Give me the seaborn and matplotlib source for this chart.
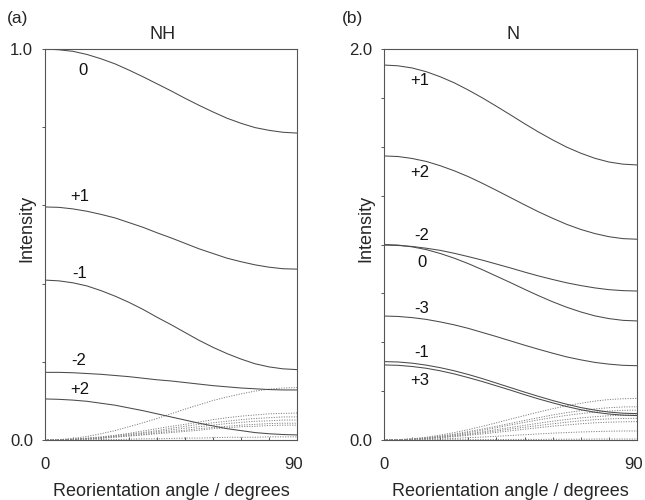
import matplotlib
matplotlib.use("Agg")
import matplotlib.pyplot as plt
import matplotlib.transforms as mtransforms
import seaborn as sns
import pandas as pd

# Reorientation angle grid (degrees)
angles = list(range(0, 91, 5))

# ---- (a) NH intensities, labelled transitions ----
nh_labels = ["0", "+1", "-1", "-2", "+2"]
nh_0 = [1.000, 0.998, 0.994, 0.986, 0.975, 0.962, 0.946, 0.929, 0.911, 0.893,
        0.874, 0.856, 0.839, 0.823, 0.810, 0.799, 0.792, 0.787, 0.785]
nh_p1 = [0.596, 0.595, 0.591, 0.585, 0.577, 0.568, 0.556, 0.544, 0.530, 0.517,
         0.503, 0.489, 0.477, 0.465, 0.456, 0.448, 0.442, 0.438, 0.437]
nh_m1 = [0.409, 0.407, 0.402, 0.394, 0.382, 0.368, 0.352, 0.334, 0.314, 0.295,
         0.275, 0.255, 0.237, 0.221, 0.207, 0.195, 0.187, 0.182, 0.180]
nh_m2 = [0.173, 0.173, 0.172, 0.170, 0.168, 0.165, 0.162, 0.158, 0.154, 0.151,
         0.147, 0.143, 0.139, 0.136, 0.133, 0.131, 0.129, 0.128, 0.128]
nh_p2 = [0.105, 0.104, 0.102, 0.099, 0.094, 0.089, 0.082, 0.075, 0.067, 0.059,
         0.051, 0.043, 0.036, 0.029, 0.024, 0.019, 0.016, 0.014, 0.013]
nh_label_pos = [(13.5, 0.946), (12.5, 0.622), (12.5, 0.425), (12.0, 0.203), (12.5, 0.128)]

# (a) NH, weak components growing in with angle
nh_weak_1 = [0, 0.001, 0.004, 0.009, 0.016, 0.024, 0.034, 0.044, 0.055, 0.067,
             0.079, 0.090, 0.101, 0.110, 0.118, 0.125, 0.130, 0.133, 0.134]
nh_weak_2 = [0, 0.001, 0.002, 0.005, 0.008, 0.012, 0.017, 0.023, 0.029, 0.035,
             0.040, 0.046, 0.052, 0.057, 0.061, 0.064, 0.067, 0.068, 0.069]
nh_weak_3 = [0, 0.000, 0.002, 0.004, 0.007, 0.011, 0.015, 0.019, 0.024, 0.030,
             0.035, 0.040, 0.044, 0.048, 0.052, 0.055, 0.057, 0.059, 0.059]
nh_weak_4 = [0, 0.000, 0.002, 0.003, 0.006, 0.009, 0.013, 0.017, 0.021, 0.026,
             0.030, 0.034, 0.038, 0.042, 0.045, 0.048, 0.049, 0.051, 0.051]
nh_weak_5 = [0, 0.000, 0.001, 0.003, 0.005, 0.008, 0.011, 0.014, 0.018, 0.022,
             0.025, 0.029, 0.032, 0.035, 0.038, 0.040, 0.042, 0.043, 0.043]
nh_weak_6 = [0, 0.000, 0.001, 0.003, 0.004, 0.007, 0.010, 0.013, 0.016, 0.019,
             0.022, 0.025, 0.029, 0.031, 0.034, 0.035, 0.037, 0.038, 0.038]
nh_weak_7 = [0, 0.000, 0.000, 0.001, 0.001, 0.001, 0.002, 0.003, 0.003, 0.004,
             0.005, 0.005, 0.006, 0.007, 0.007, 0.007, 0.008, 0.008, 0.008]

# ---- (b) N intensities, labelled transitions ----
n_labels = ["+1", "+2", "-2", "0", "-3", "-1", "+3"]
n_p1 = [1.918, 1.914, 1.903, 1.884, 1.858, 1.827, 1.790, 1.750, 1.707, 1.663,
        1.618, 1.575, 1.535, 1.498, 1.467, 1.441, 1.422, 1.411, 1.407]
n_p2 = [1.453, 1.450, 1.440, 1.425, 1.403, 1.377, 1.347, 1.313, 1.277, 1.240,
        1.203, 1.167, 1.134, 1.103, 1.077, 1.056, 1.040, 1.030, 1.027]
n_m2 = [0.997, 0.995, 0.990, 0.981, 0.970, 0.955, 0.938, 0.920, 0.900, 0.880,
        0.859, 0.839, 0.821, 0.804, 0.790, 0.778, 0.769, 0.764, 0.762]
n_0 = [1.000, 0.997, 0.988, 0.974, 0.954, 0.930, 0.902, 0.871, 0.838, 0.805,
       0.771, 0.738, 0.707, 0.679, 0.655, 0.635, 0.621, 0.612, 0.609]
n_m3 = [0.634, 0.632, 0.626, 0.617, 0.604, 0.589, 0.571, 0.550, 0.529, 0.507,
        0.485, 0.464, 0.444, 0.425, 0.410, 0.397, 0.388, 0.382, 0.380]
n_m1 = [0.401, 0.399, 0.393, 0.383, 0.370, 0.354, 0.335, 0.314, 0.291, 0.268,
        0.245, 0.223, 0.202, 0.183, 0.166, 0.153, 0.143, 0.137, 0.135]
n_p3 = [0.384, 0.382, 0.376, 0.367, 0.354, 0.338, 0.319, 0.299, 0.277, 0.255,
        0.232, 0.210, 0.190, 0.171, 0.155, 0.142, 0.133, 0.127, 0.125]
n_label_pos = [(12.8, 1.84), (12.8, 1.37), (13.5, 1.045), (13.5, 0.91),
               (13.5, 0.675), (13.5, 0.45), (12.8, 0.305)]

# (b) N, weak components growing in with angle
n_weak_1 = [0, 0.002, 0.006, 0.014, 0.025, 0.038, 0.053, 0.070, 0.088, 0.107,
            0.125, 0.143, 0.160, 0.175, 0.188, 0.199, 0.207, 0.211, 0.213]
n_weak_2 = [0, 0.001, 0.005, 0.011, 0.020, 0.030, 0.043, 0.056, 0.070, 0.085,
            0.100, 0.114, 0.128, 0.140, 0.150, 0.159, 0.165, 0.169, 0.170]
n_weak_3 = [0, 0.001, 0.005, 0.010, 0.018, 0.027, 0.038, 0.050, 0.063, 0.077,
            0.090, 0.103, 0.115, 0.126, 0.135, 0.143, 0.148, 0.152, 0.153]
n_weak_4 = [0, 0.001, 0.004, 0.009, 0.015, 0.023, 0.032, 0.042, 0.053, 0.064,
            0.075, 0.086, 0.096, 0.105, 0.113, 0.119, 0.124, 0.127, 0.128]
n_weak_5 = [0, 0.001, 0.003, 0.007, 0.013, 0.020, 0.028, 0.037, 0.046, 0.056,
            0.065, 0.074, 0.083, 0.091, 0.098, 0.104, 0.108, 0.110, 0.111]
n_weak_6 = [0, 0.001, 0.003, 0.006, 0.011, 0.017, 0.024, 0.031, 0.039, 0.047,
            0.055, 0.063, 0.071, 0.077, 0.083, 0.088, 0.091, 0.093, 0.094]
n_weak_7 = [0, 0.000, 0.001, 0.003, 0.005, 0.008, 0.012, 0.015, 0.019, 0.023,
            0.027, 0.031, 0.035, 0.038, 0.041, 0.043, 0.045, 0.046, 0.046]
n_weak_8 = [0, 0.000, 0.000, 0.000, 0.001, 0.001, 0.001, 0.002, 0.002, 0.003,
            0.003, 0.003, 0.004, 0.004, 0.004, 0.005, 0.005, 0.005, 0.005]

sns.set_theme(style="ticks")
plt.rcParams["font.family"] = ["Liberation Sans", "DejaVu Sans"]

LINE = "#4a4a4a"
DOT = "#808080"
SPINE = "#555555"

fig = plt.figure(figsize=(6.45, 5.0), dpi=100)
ax_a = fig.add_axes([45 / 645, 60 / 500, 252 / 645, 391 / 500])
ax_b = fig.add_axes([384 / 645, 60 / 500, 253 / 645, 391 / 500])


def draw_panel(ax, main, labels, label_pos, weak, ymax, ystep, title, title_x, tag, fig_x):
    for vals in weak:
        df = pd.DataFrame({"angle": angles, "I": vals})
        sns.lineplot(data=df, x="angle", y="I", ax=ax, color=DOT, lw=0.7,
                     linestyle=(0, (1.2, 1.4)), legend=False)
    for vals in main:
        df = pd.DataFrame({"angle": angles, "I": vals})
        sns.lineplot(data=df, x="angle", y="I", ax=ax, color=LINE, lw=0.75,
                     legend=False)
    for lab, (x, y) in zip(labels, label_pos):
        ax.text(x, y, lab, fontsize=12, ha="center", va="center", color="#111111")

    ax.set_xlim(0, 90)
    ax.set_ylim(0, ymax)
    xt = list(range(0, 91, 10))
    ax.set_xticks(xt)
    ax.set_xticklabels([str(t) if t in (0, 90) else "" for t in xt])
    n = int(round(ymax / ystep))
    yt = [i * ystep for i in range(n + 1)]
    ax.set_yticks(yt)
    ax.set_yticklabels([f"{t:.1f}" if i in (0, n) else "" for i, t in enumerate(yt)])
    ax.tick_params(axis="x", direction="in", length=2.5, width=0.7, pad=12,
                   labelsize=12, color=SPINE)
    ax.tick_params(axis="y", direction="out", length=2.5, width=0.7, pad=6,
                   labelsize=12, color=SPINE)
    # keep the right-hand "90" inside the canvas
    last = ax.get_xticklabels()[-1]
    last.set_transform(last.get_transform() +
                       mtransforms.ScaledTranslation(-3 / 100, 0, fig.dpi_scale_trans))
    for sp in ax.spines.values():
        sp.set_visible(True)
        sp.set_color(SPINE)
        sp.set_linewidth(0.8)
    ax.set_xlabel("Reorientation angle / degrees", fontsize=13, labelpad=8)
    ax.set_ylabel("Intensity", fontsize=13)
    ax.yaxis.set_label_coords(-0.04, 0.54)
    ax.set_title(title, fontsize=13, pad=7, x=title_x)
    fig.text(fig_x, 1 - 18 / 500, tag, fontsize=12.5, ha="center", va="center")


draw_panel(ax_a, [nh_0, nh_p1, nh_m1, nh_m2, nh_p2], nh_labels, nh_label_pos,
           [nh_weak_1, nh_weak_2, nh_weak_3, nh_weak_4, nh_weak_5, nh_weak_6, nh_weak_7],
           1.0, 0.2, "NH", 0.465, "(a)", 18 / 645)
draw_panel(ax_b, [n_p1, n_p2, n_m2, n_0, n_m3, n_m1, n_p3], n_labels, n_label_pos,
           [n_weak_1, n_weak_2, n_weak_3, n_weak_4, n_weak_5, n_weak_6, n_weak_7, n_weak_8],
           2.0, 0.25, "N", 0.51, "(b)", 353 / 645)

fig.savefig("out.png", dpi=100)
